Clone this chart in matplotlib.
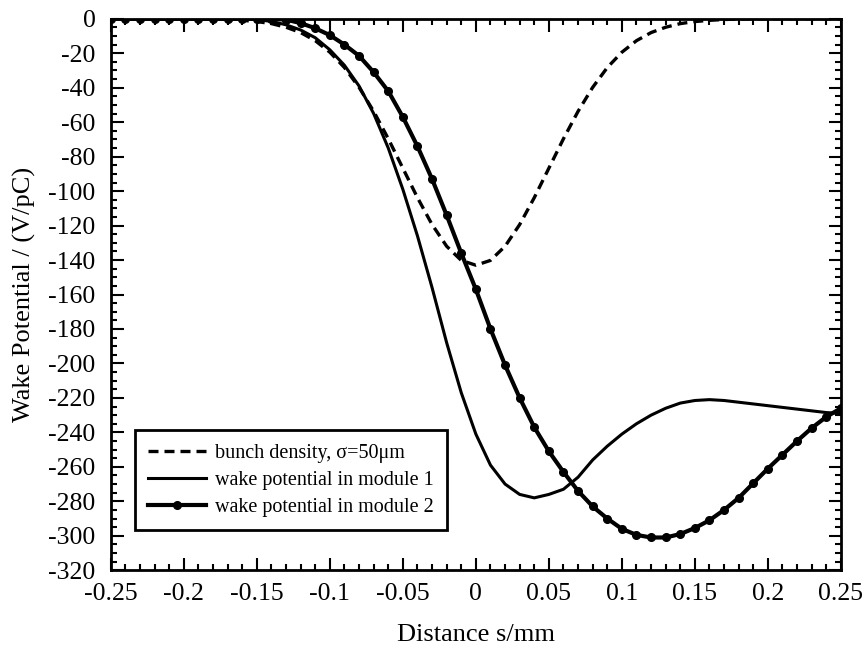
import numpy as np
import matplotlib
matplotlib.use('Agg')
import matplotlib.pyplot as plt
from matplotlib.ticker import MultipleLocator

plt.rcParams['font.family'] = ['Liberation Serif', 'DejaVu Serif']

# distance s/mm, one point every 0.01
s = np.round(np.arange(-0.25, 0.2501, 0.01), 2)

bunch = [0, 0, 0, 0, 0, 0, 0, -0.2, -0.4, -0.9,
         -1.6, -2.8, -4.9, -8.0, -12.7, -19.4, -28.3, -39.8, -53.7, -69.6,
         -86.7, -103.8, -119.4, -132.0, -140.2, -143.0, -140.2, -132.0, -119.4, -103.8,
         -86.7, -69.6, -53.7, -39.8, -28.3, -19.4, -12.7, -8.0, -4.9, -2.8,
         -1.6, -0.9, -0.4, -0.2, 0, 0, 0, 0, 0, 0, 0]

wake1 = [0, 0, 0, 0, 0, 0, 0, 0, 0, 0,
         -0.5, -1.5, -3.5, -6.5, -11, -18, -27, -39, -55, -75,
         -99, -126, -156, -188, -217, -241, -259, -270, -276, -278,
         -276, -273, -266, -256, -248, -241, -235, -230, -226, -223,
         -221.5, -221, -221.5, -222.5, -223.5, -224.5, -225.5, -226.5, -227.5, -228.5, -229]

wake2 = [0, 0, 0, 0, 0, 0, 0, 0, 0, 0,
         0, 0, -0.5, -2.5, -5.5, -9.5, -15, -21.5, -31, -42,
         -57, -74, -93, -114, -136, -157, -180, -201, -220, -237,
         -251, -263, -274, -283, -290, -296, -299.5, -301, -301, -299,
         -295.5, -291, -285, -278, -269.5, -261, -253, -245, -237.5, -231, -226]

xticklabels = ['-0.25', '-0.2', '-0.15', '-0.1', '-0.05', '0',
               '0.05', '0.1', '0.15', '0.2', '0.25']

fig = plt.figure(figsize=(8.66, 6.48), dpi=100)
ax = fig.add_axes([0.128, 0.120, 0.843, 0.851])

ax.plot(s, bunch, color='black', linestyle=(0, (3, 1.8)), linewidth=2.4,
        label='bunch density, σ=50μm')
ax.plot(s, wake1, color='black', linewidth=2.2,
        label='wake potential in module 1')
ax.plot(s, wake2, color='black', linewidth=3.0, marker='o', markersize=5.5,
        label='wake potential in module 2')

ax.set_xlim(-0.25, 0.25)
ax.set_ylim(-320, 0)
ax.xaxis.set_minor_locator(MultipleLocator(0.01))
ax.yaxis.set_minor_locator(MultipleLocator(5))
ax.set_xticks(np.round(np.arange(-0.25, 0.2501, 0.05), 2))
ax.set_xticklabels(xticklabels)
ax.set_yticks(np.arange(-320, 1, 20))
ax.set_yticklabels([str(v) for v in range(-320, 1, 20)])

ax.tick_params(which='both', direction='in', top=True, right=True,
               labelsize=18.5, width=1.5)
ax.tick_params(axis='x', pad=9)
ax.tick_params(axis='y', pad=11)
ax.tick_params(which='major', length=9)
ax.tick_params(which='minor', length=4.5)
for sp in ax.spines.values():
    sp.set_linewidth(2)

ax.set_xlabel('Distance s/mm', fontsize=19, labelpad=14)
ax.set_ylabel('Wake Potential / (V/pC)', fontsize=19, labelpad=9)

leg = ax.legend(loc='lower left', bbox_to_anchor=(0.033, 0.073), borderaxespad=0,
                fontsize=14.5, handlelength=2.9, handletextpad=0.45,
                labelspacing=0.4, borderpad=0.65, fancybox=False,
                edgecolor='black', framealpha=1)
leg.get_frame().set_linewidth(2)

fig.savefig('out.png', dpi=100)
